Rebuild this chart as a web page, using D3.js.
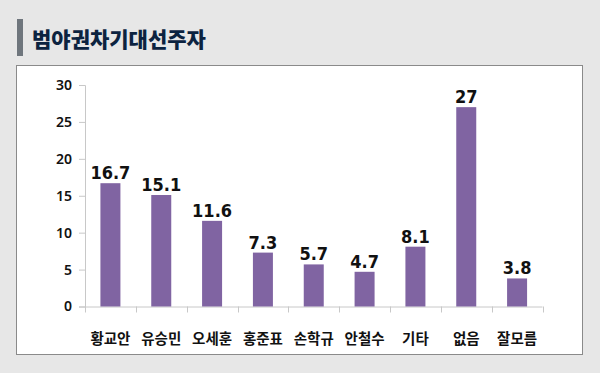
<!DOCTYPE html>
<html>
<head>
<meta charset="utf-8">
<script src="https://cdn.jsdelivr.net/npm/d3@7"></script>
<style>
  body { margin: 0; background: #e7e7e7; }
  svg { display: block; }
</style>
</head>
<body>
<div id="chart"></div>
<script>
// 범야권 차기 대선주자 지지율
var categories = ["황교안", "유승민", "오세훈", "홍준표", "손학규", "안철수", "기타", "없음", "잘모름"];
var values = [16.7, 15.1, 11.6, 7.3, 5.7, 4.7, 8.1, 27, 3.8];
var yTicks = [0, 5, 10, 15, 20, 25, 30];
var title = "범야권차기대선주자";

function draw_chart()
{
    const W = 600, H = 373;
    const svg = d3.select("#chart").append("svg")
        .attr("width", W)
        .attr("height", H);

    svg.append("rect").attr("width", W).attr("height", H).attr("fill", "#e7e7e7");

    // title with the gray marker
    svg.append("rect")
        .attr("x", 17).attr("y", 19)
        .attr("width", 6).attr("height", 37)
        .attr("fill", "#6f767d");
    svg.append("text")
        .attr("x", 32).attr("y", 47)
        .attr("font-family", "Noto Sans CJK KR")
        .attr("font-weight", 900)
        .attr("font-size", 21)
        .attr("fill", "#0c2340")
        .text(title);

    // white panel
    svg.append("rect")
        .attr("x", 16.5).attr("y", 65.5)
        .attr("width", 566).attr("height", 289)
        .attr("fill", "#fff")
        .attr("stroke", "#8a8a8a")
        .attr("stroke-width", 1);

    const x = d3.scaleBand()
        .domain(categories)
        .range([85, 542.5])
        .paddingInner(0)
        .paddingOuter(0);

    const y = d3.scaleLinear()
        .domain([0, 30])
        .range([306.5, 85]);

    const barW = 20;

    // axes
    const yAxis = svg.append("g")
        .attr("transform", "translate(85,0)")
        .call(d3.axisLeft(y).tickValues(yTicks).tickSize(6).tickPadding(7));
    yAxis.select(".domain").attr("stroke", "#c8c8c8");
    yAxis.selectAll(".tick line").attr("stroke", "#c8c8c8");
    yAxis.selectAll("text")
        .attr("font-family", "Noto Sans")
        .attr("font-weight", 600)
        .attr("font-size", 14)
        .attr("fill", "#111");

    // x axis: ticks at the category boundaries
    const xg = svg.append("g");
    xg.append("line")
        .attr("x1", x.range()[0]).attr("x2", x.range()[1])
        .attr("y1", y(0) + 0.5).attr("y2", y(0) + 0.5)
        .attr("stroke", "#c8c8c8");
    xg.selectAll("line.tk")
        .data(categories.concat([null]))
        .enter().append("line")
        .attr("class", "tk")
        .attr("x1", (d, i) => Math.round(x.range()[0] + i * x.step()) + 0.5)
        .attr("x2", (d, i) => Math.round(x.range()[0] + i * x.step()) + 0.5)
        .attr("y1", y(0))
        .attr("y2", y(0) + 6)
        .attr("stroke", "#c8c8c8");

    xg.selectAll("text")
        .data(categories)
        .enter().append("text")
        .attr("x", d => x(d) + x.bandwidth() / 2)
        .attr("y", 344)
        .attr("text-anchor", "middle")
        .attr("font-family", "Noto Sans CJK KR")
        .attr("font-weight", "bold")
        .attr("font-size", 14.5)
        .attr("fill", "#111")
        .text(d => d);

    // bars
    svg.selectAll("rect.bar")
        .data(values)
        .enter().append("rect")
        .attr("class", "bar")
        .attr("x", (d, i) => x(categories[i]) + x.bandwidth() / 2 - barW / 2)
        .attr("y", d => y(d))
        .attr("width", barW)
        .attr("height", d => y(0) - y(d))
        .attr("fill", "#8064a2");

    // value labels
    svg.selectAll("text.val")
        .data(values)
        .enter().append("text")
        .attr("class", "val")
        .attr("x", (d, i) => x(categories[i]) + x.bandwidth() / 2)
        .attr("y", d => y(d) - 4)
        .attr("text-anchor", "middle")
        .attr("font-family", "DejaVu Sans Condensed")
        .attr("font-stretch", "condensed")
        .attr("font-weight", "bold")
        .attr("font-size", 18)
        .attr("fill", "#111")
        .text(d => d);
}

draw_chart();
</script>
</body>
</html>
